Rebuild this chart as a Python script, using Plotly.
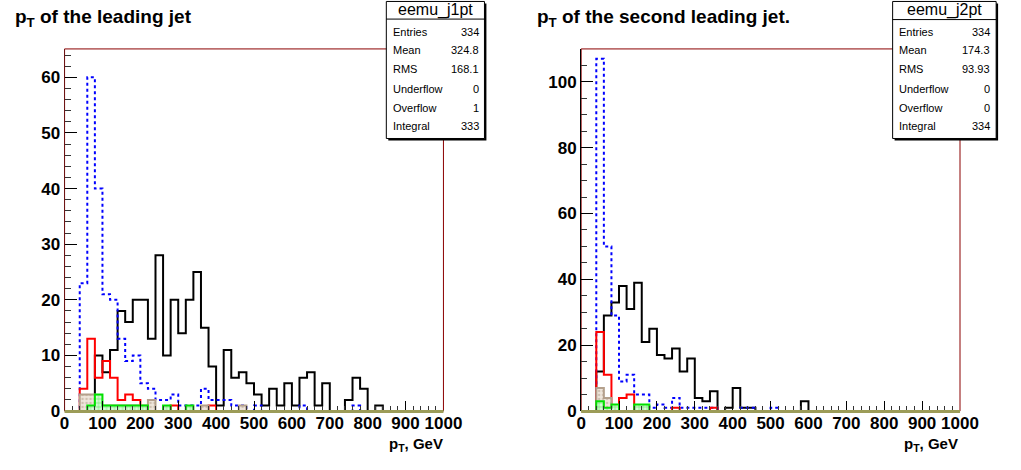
import plotly.graph_objects as go

W, H = 1021, 470

# ---------------- data (50 bins of 20 GeV, 0-1000 GeV) ----------------
bin_edges = list(range(0, 1001, 20))

j1_black = [0, 0, 0, 0, 10, 7, 11, 18, 16, 20, 20, 13, 28, 10, 20, 14, 20, 25, 15, 8,
            1, 11, 6, 7, 5, 3, 1, 4, 1, 5, 1, 6, 7, 1, 5, 0, 0, 2, 6, 4,
            0, 1, 0, 0, 0, 0, 0, 0, 0, 0]
j1_blue = [0, 0, 23, 60, 40, 21, 20, 13, 9, 10, 5, 4, 2, 2, 3, 1, 1, 1, 4, 2,
           2, 2, 1, 1, 0, 1, 0, 0, 0, 0, 0, 1, 0, 0, 0, 0, 0, 0, 1, 0,
           0, 0, 0, 0, 0, 0, 0, 0, 0, 0]
j1_red = [0, 0, 4, 13, 6, 9, 6, 2, 3, 2, 0, 0, 0, 0, 1, 0, 0, 0, 0, 1,
          0, 0, 0, 0, 0, 0, 0, 0, 0, 0, 0, 0, 0, 0, 0, 0, 0, 0, 0, 0,
          0, 0, 0, 0, 0, 0, 0, 0, 0, 0]
j1_tan = [0, 0, 3, 3, 1, 1, 1, 1, 1, 1, 1, 2, 0, 0, 0, 0, 0, 0, 1, 0,
          0, 0, 0, 1, 0, 0, 0, 0, 0, 0, 0, 0, 0, 0, 0, 0, 0, 0, 0, 0,
          0, 0, 0, 0, 0, 0, 0, 0, 0, 0]
j1_green = [0, 0, 0, 1, 3, 1, 1, 1, 1, 1, 1, 0, 0, 1, 0, 0, 1, 0, 0, 0,
            0, 0, 0, 0, 0, 0, 0, 0, 0, 0, 0, 0, 0, 0, 0, 0, 0, 0, 0, 0,
            0, 0, 0, 0, 0, 0, 0, 0, 0, 0]

j2_black = [0, 0, 12, 29, 33, 38, 31, 39, 21, 25, 17, 16, 19, 12, 16, 4, 3, 6, 0, 1,
            7, 1, 1, 0, 0, 0, 0, 0, 0, 3, 0, 0, 0, 0, 0, 0, 0, 0, 0, 0,
            0, 0, 0, 0, 0, 0, 0, 0, 0, 0]
j2_blue = [0, 0, 107, 50, 29, 9, 11, 5, 5, 1, 2, 1, 4, 1, 1, 1, 1, 1, 0, 0,
           0, 1, 1, 0, 0, 1, 0, 0, 0, 0, 0, 0, 0, 0, 0, 0, 0, 0, 0, 0,
           0, 0, 0, 0, 0, 0, 0, 0, 0, 0]
j2_red = [0, 0, 24, 11, 0, 4, 5, 0, 0, 0, 0, 0, 1, 0, 0, 0, 0, 1, 0, 0,
          0, 0, 0, 0, 0, 0, 0, 0, 0, 0, 0, 0, 0, 0, 0, 0, 0, 0, 0, 0,
          0, 0, 0, 0, 0, 0, 0, 0, 0, 0]
j2_tan = [0, 0, 7, 4, 1, 0, 0, 0, 1, 0, 0, 0, 0, 0, 0, 0, 0, 0, 0, 0,
          0, 0, 0, 0, 0, 0, 0, 0, 0, 0, 0, 0, 0, 0, 0, 0, 0, 0, 0, 0,
          0, 0, 0, 0, 0, 0, 0, 0, 0, 0]
j2_green = [0, 0, 3, 1, 2, 0, 0, 2, 2, 0, 0, 0, 0, 0, 0, 0, 0, 0, 0, 0,
            0, 0, 0, 0, 0, 0, 0, 0, 0, 0, 0, 0, 0, 0, 0, 0, 0, 0, 0, 0,
            0, 0, 0, 0, 0, 0, 0, 0, 0, 0]

x_ticks = [0, 100, 200, 300, 400, 500, 600, 700, 800, 900, 1000]
x_ticktext = ["0", "100", "200", "300", "400", "500", "600", "700", "800", "900", "1000"]

stat_names = ["Entries", "Mean", "RMS", "Underflow", "Overflow", "Integral"]
j1_stats = ["334", "324.8", "168.1", "0", "1", "333"]
j2_stats = ["334", "174.3", "93.93", "0", "0", "334"]

titles = ["p<sub>T</sub> of the leading jet", "p<sub>T</sub> of the second leading jet."]
hist_names = ["eemu_j1pt", "eemu_j2pt"]
x_title = "p<sub>T</sub>, GeV"

# ---------------- figure ----------------
FONT = "Liberation Sans, Arial, Helvetica, sans-serif"
OLIVE = "#9c9c58"


def px(x):
    return x / W


def py(y):
    return 1 - y / H


fig = go.Figure()


def step(values, xa, ya, color, width=2, dash="solid", fill=None, pattern=None):
    yv = list(values) + [values[-1]]
    kw = {}
    if fill:
        kw["fill"] = "tozeroy"
        kw["fillcolor"] = fill
        if pattern:
            kw["fillpattern"] = pattern
    fig.add_trace(go.Scatter(
        x=bin_edges, y=yv, mode="lines", line_shape="hv",
        line=dict(color=color, width=width, dash=dash),
        xaxis=xa, yaxis=ya, hoverinfo="skip", **kw))


panels = [
    dict(xa="x", ya="y", data=(j1_black, j1_blue, j1_red, j1_tan, j1_green)),
    dict(xa="x2", ya="y2", data=(j2_black, j2_blue, j2_red, j2_tan, j2_green)),
]
for p in panels:
    blk, blu, red, tan, grn = p["data"]
    step(blk, p["xa"], p["ya"], "#000000", 2)
    step(blu, p["xa"], p["ya"], "#0000ff", 2, dash="3px,3px")
    step(red, p["xa"], p["ya"], "#ff0000", 2)
    step(tan, p["xa"], p["ya"], "#b4a08c", 2, fill="#efe6dc",
         pattern=dict(shape=".", fgcolor="#b09a86", bgcolor="#efe6dc", size=4, solidity=0.35))
    step(grn, p["xa"], p["ya"], "#00e000", 2, fill="#c8f8c8",
         pattern=dict(shape="+", fgcolor="#00d000", bgcolor="#d8fcd8", size=4, solidity=0.3))

# frames (pixel geometry)
frames = [(61, 449, 50, 420, 65.1, 10, 2, "#6e1414"), (590, 978, 50, 420, 110.0, 20, 5, "#000000")]

common_x = dict(range=[0, 1000], tickvals=x_ticks, ticktext=x_ticktext, ticks="inside",
                ticklen=10, tickwidth=1, tickcolor="black",
                minor=dict(ticks="inside", ticklen=5, dtick=20, tickcolor="#333333", tickwidth=1),
                showline=False, showgrid=False, zeroline=False,
                tickfont=dict(family=FONT, size=17, color="black", weight="bold"), fixedrange=True)

layout_axes = {}
for i, (x0, x1, y0, y1, ymax, dt, mdt, ycol) in enumerate(frames):
    sx = "" if i == 0 else "2"
    layout_axes["xaxis" + sx] = dict(common_x, domain=[px(x0), px(x1)], anchor="y" + sx)
    layout_axes["yaxis" + sx] = dict(
        domain=[py(y1), py(y0)], anchor="x" + sx, range=[0, ymax], dtick=dt, tick0=0,
        ticks="inside", ticklen=12, tickwidth=1, tickcolor="black",
        minor=dict(ticks="inside", ticklen=6, dtick=mdt, tickcolor="#333333", tickwidth=1),
        showline=True, linecolor=ycol, linewidth=1, showgrid=False, zeroline=False,
        tickfont=dict(family=FONT, size=17, color="black", weight="bold"), fixedrange=True)

shapes = []
for (x0, x1, y0, y1, *_r) in frames:
    shapes.append(dict(type="rect", xref="paper", yref="paper", x0=px(x0), x1=px(x1),
                       y0=py(y1), y1=py(y0), line=dict(color="#8b0000", width=1), layer="below"))
    # olive baseline drawn over the zero-level outlines, as in the reference
    shapes.append(dict(type="line", xref="paper", yref="paper", x0=px(x0), x1=px(x1),
                       y0=py(y1 + 0.5), y1=py(y1 + 0.5), line=dict(color=OLIVE, width=3),
                       layer="above"))

annotations = []
boxes = [(390.5, 491, 1.5, 141.5, 19.5, j1_stats), (909, 1015, 1.5, 141.5, 20, j2_stats)]
row_y = [32.5, 51.5, 71, 90.5, 110, 128.5]
for k, (bx0, bx1, by0, by1, sep, vals) in enumerate(boxes):
    shapes.append(dict(type="rect", xref="paper", yref="paper", x0=px(bx0 + 2), x1=px(bx1 + 2),
                       y0=py(by1 + 2), y1=py(by0 + 2), line=dict(width=0), fillcolor="black",
                       layer="above"))
    shapes.append(dict(type="rect", xref="paper", yref="paper", x0=px(bx0), x1=px(bx1),
                       y0=py(by1), y1=py(by0), line=dict(color="black", width=1),
                       fillcolor="white", layer="above"))
    shapes.append(dict(type="line", xref="paper", yref="paper", x0=px(bx0), x1=px(bx1),
                       y0=py(sep), y1=py(sep), line=dict(color="black", width=1), layer="above"))
    annotations.append(dict(text=hist_names[k], x=px((bx0 + bx1) / 2), y=py(10.5), xref="paper",
                            yref="paper", showarrow=False, xanchor="center", yanchor="middle",
                            font=dict(family=FONT, size=16, color="black")))
    for name, val, ry in zip(stat_names, vals, row_y):
        annotations.append(dict(text=name, x=px(bx0 + 4.5), y=py(ry), xref="paper", yref="paper",
                                showarrow=False, xanchor="left", yanchor="middle",
                                font=dict(family=FONT, size=11, color="black")))
        annotations.append(dict(text=val, x=px(bx1 - 4), y=py(ry), xref="paper", yref="paper",
                                showarrow=False, xanchor="right", yanchor="middle",
                                font=dict(family=FONT, size=11, color="black")))

# titles
for t, tx in zip(titles, [8, 543]):
    annotations.append(dict(text=t, x=px(tx), y=py(18), xref="paper", yref="paper",
                            showarrow=False, xanchor="left", yanchor="middle",
                            font=dict(family=FONT, size=19, color="black", weight="bold")))
# axis titles
for ax_right in [450, 977]:
    annotations.append(dict(text=x_title, x=px(ax_right), y=py(454), xref="paper", yref="paper",
                            showarrow=False, xanchor="right", yanchor="middle", borderpad=0,
                            font=dict(family=FONT, size=15, color="black", weight="bold")))

fig.update_layout(width=W, height=H, margin=dict(l=0, r=0, t=0, b=0), autosize=False,
                  paper_bgcolor="white", plot_bgcolor="white", showlegend=False,
                  shapes=shapes, annotations=annotations, **layout_axes)

page_fix = (
    "document.documentElement.style.margin='0';"
    "document.documentElement.style.overflow='hidden';"
    "document.body.style.margin='0';"
    "document.body.style.overflow='hidden';"
    "var gd=document.getElementsByClassName('plotly-graph-div')[0];"
    "gd.style.position='fixed';gd.style.left='0px';gd.style.top='0px';"
)

fig.write_html("out.html", config={"displayModeBar": False}, post_script=page_fix)
